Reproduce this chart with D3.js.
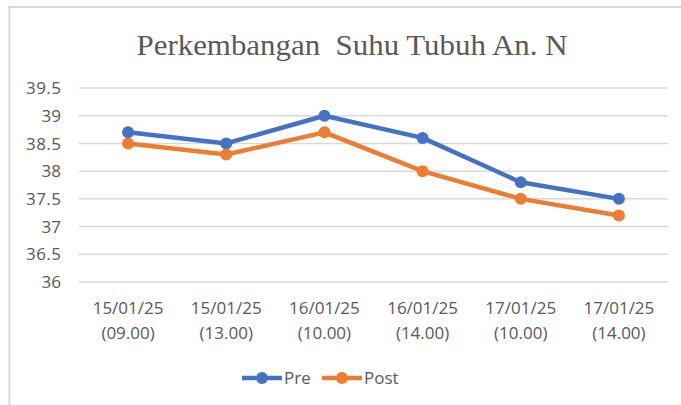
<html>
<head>
<style>
  body { margin: 0; background: #fff; }
  .chart text { font-family: "Open Sans", "Liberation Sans", sans-serif; fill: #595959; }
</style>
</head>
<body>
<svg class="chart"></svg>
<script src="https://d3js.org/d3.v7.min.js"></script>
<script>
var categories = ['15/01/25|(09.00)', '15/01/25|(13.00)', '16/01/25|(10.00)', '16/01/25|(14.00)', '17/01/25|(10.00)', '17/01/25|(14.00)'];
var preValues = [38.7, 38.5, 39, 38.6, 37.8, 37.5];
var postValues = [38.5, 38.3, 38.7, 38.0, 37.5, 37.2];
var yTicks = [36, 36.5, 37, 37.5, 38, 38.5, 39, 39.5];
var seriesNames = ['Pre', 'Post'];
var colors = ['#4472c4', '#ed7d31'];

var svg = d3.select('.chart').attr('width', 681).attr('height', 405);

// frame (right and bottom edges fall outside the picture)
svg.append('rect').attr('x', 9.5).attr('y', 7).attr('width', 680).attr('height', 410)
  .attr('fill', 'none').attr('stroke', '#d9d9d9').attr('stroke-width', 2);

var x = d3.scaleBand().domain(categories).range([79, 668]);
var y = d3.scaleLinear().domain([36, 39.5]).range([282, 88]);

// grid
svg.append('g').selectAll('line').data(yTicks).enter().append('line')
  .attr('x1', 79).attr('x2', 668)
  .attr('y1', function(d) { return y(d); }).attr('y2', function(d) { return y(d); })
  .attr('stroke', '#d9d9d9').attr('stroke-width', 1.5);

// y labels
svg.append('g').selectAll('text').data(yTicks).enter().append('text')
  .attr('x', 61).attr('y', function(d) { return y(d); })
  .attr('dy', '0.36em').attr('text-anchor', 'end').style('font-size', '17px')
  .attr('textLength', function(d) { return String(d).length > 2 ? 35 : null; })
  .text(function(d) { return d; });

// x labels
var xl = svg.append('g').selectAll('text').data(categories).enter().append('text')
  .attr('text-anchor', 'middle').style('font-size', '17px');
xl.append('tspan').attr('y', 314).attr('x', function(d) { return x(d) + x.bandwidth() / 2; })
  .text(function(d) { return d.split('|')[0]; });
xl.append('tspan').attr('y', 339).attr('x', function(d) { return x(d) + x.bandwidth() / 2; })
  .text(function(d) { return d.split('|')[1]; });

// title
svg.append('text').attr('x', 352).attr('y', 55).attr('text-anchor', 'middle')
  .style('font-family', '"Liberation Serif", serif').style('font-size', '29px')
  .attr('textLength', 431).attr('lengthAdjust', 'spacingAndGlyphs')
  .attr('xml:space', 'preserve')
  .text('Perkembangan  Suhu Tubuh An. N');

var line = d3.line()
  .x(function(d, i) { return x(categories[i]) + x.bandwidth() / 2; })
  .y(function(d) { return y(d); });

[preValues, postValues].forEach(function(vals, s) {
  var g = svg.append('g');
  g.append('path').datum(vals).attr('d', line).attr('fill', 'none')
    .attr('stroke', colors[s]).attr('stroke-width', 4.5).attr('stroke-linejoin', 'round');
  g.selectAll('circle').data(vals).enter().append('circle')
    .attr('cx', function(d, i) { return x(categories[i]) + x.bandwidth() / 2; })
    .attr('cy', function(d) { return y(d); })
    .attr('r', 6).attr('fill', colors[s]);
});

// legend
var legendX = [242, 322];
seriesNames.forEach(function(name, s) {
  var lg = svg.append('g').attr('transform', 'translate(' + legendX[s] + ',378)');
  lg.append('line').attr('x1', 0).attr('x2', 40).attr('stroke', colors[s]).attr('stroke-width', 4.5);
  lg.append('circle').attr('cx', 20).attr('r', 6).attr('fill', colors[s]);
  lg.append('text').attr('x', 42).attr('dy', '0.36em').style('font-size', '17px').text(name);
});
</script>
</body>
</html>
